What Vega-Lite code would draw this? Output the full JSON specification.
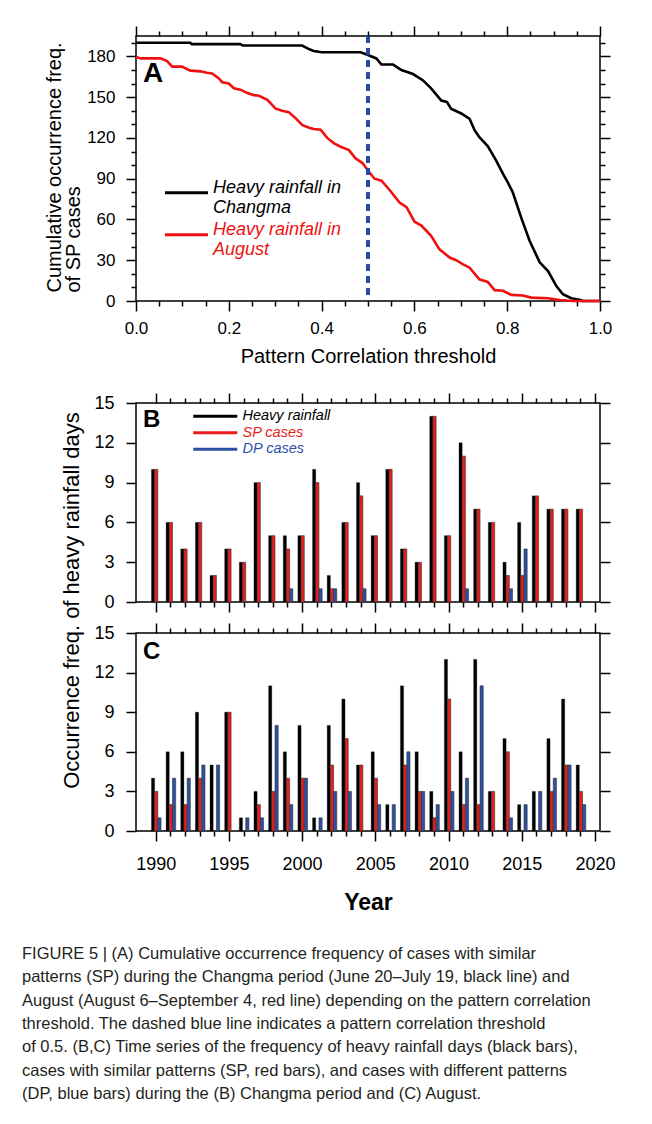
{
  "$schema": "https://vega.github.io/schema/vega-lite/v6.json",
  "padding": {"left": 22, "top": 24, "right": 5, "bottom": 10},
  "bounds": "flush",
  "spacing": 102,
  "resolve": {"scale": {"color": "independent"}, "legend": {"color": "independent"}},
  "title": {
    "text": [
      "FIGURE 5 | (A) Cumulative occurrence frequency of cases with similar",
      "patterns (SP) during the Changma period (June 20–July 19, black line) and",
      "August (August 6–September 4, red line) depending on the pattern correlation",
      "threshold. The dashed blue line indicates a pattern correlation threshold",
      "of 0.5. (B,C) Time series of the frequency of heavy rainfall days (black bars),",
      "cases with similar patterns (SP, red bars), and cases with different patterns",
      "(DP, blue bars) during the (B) Changma period and (C) August."
    ],
    "orient": "bottom",
    "anchor": "start",
    "frame": "group",
    "dx": -114,
    "offset": 31,
    "baseline": "top",
    "fontSize": 16.5,
    "fontWeight": "normal",
    "lineHeight": 23.4,
    "color": "#231f20"
  },
  "datasets": {
    "lines": [
      {"s": "Changma", "t": 0, "v": 190},
      {"s": "Changma", "t": 0.117, "v": 190},
      {"s": "Changma", "t": 0.12, "v": 189},
      {"s": "Changma", "t": 0.225, "v": 189},
      {"s": "Changma", "t": 0.23, "v": 188},
      {"s": "Changma", "t": 0.358, "v": 188},
      {"s": "Changma", "t": 0.375, "v": 185},
      {"s": "Changma", "t": 0.383, "v": 184},
      {"s": "Changma", "t": 0.4, "v": 183},
      {"s": "Changma", "t": 0.484, "v": 183},
      {"s": "Changma", "t": 0.5, "v": 181},
      {"s": "Changma", "t": 0.518, "v": 178.5},
      {"s": "Changma", "t": 0.529, "v": 174},
      {"s": "Changma", "t": 0.554, "v": 174},
      {"s": "Changma", "t": 0.572, "v": 170},
      {"s": "Changma", "t": 0.597, "v": 167},
      {"s": "Changma", "t": 0.618, "v": 162.5},
      {"s": "Changma", "t": 0.636, "v": 156.5},
      {"s": "Changma", "t": 0.658, "v": 147.5},
      {"s": "Changma", "t": 0.67, "v": 146.5},
      {"s": "Changma", "t": 0.679, "v": 141.5},
      {"s": "Changma", "t": 0.701, "v": 138},
      {"s": "Changma", "t": 0.719, "v": 134},
      {"s": "Changma", "t": 0.73, "v": 125.5},
      {"s": "Changma", "t": 0.74, "v": 120.5},
      {"s": "Changma", "t": 0.758, "v": 114},
      {"s": "Changma", "t": 0.776, "v": 103.5},
      {"s": "Changma", "t": 0.791, "v": 93.5},
      {"s": "Changma", "t": 0.801, "v": 87.5},
      {"s": "Changma", "t": 0.812, "v": 80},
      {"s": "Changma", "t": 0.83, "v": 61.5},
      {"s": "Changma", "t": 0.848, "v": 44.5},
      {"s": "Changma", "t": 0.87, "v": 28.5},
      {"s": "Changma", "t": 0.888, "v": 22},
      {"s": "Changma", "t": 0.906, "v": 11},
      {"s": "Changma", "t": 0.92, "v": 5},
      {"s": "Changma", "t": 0.938, "v": 2},
      {"s": "Changma", "t": 0.956, "v": 1},
      {"s": "Changma", "t": 0.963, "v": 0},
      {"s": "Changma", "t": 1, "v": 0},
      {"s": "August", "t": 0, "v": 179.5},
      {"s": "August", "t": 0.01, "v": 178.5},
      {"s": "August", "t": 0.053, "v": 178.5},
      {"s": "August", "t": 0.067, "v": 176.5},
      {"s": "August", "t": 0.078, "v": 172.5},
      {"s": "August", "t": 0.099, "v": 172.5},
      {"s": "August", "t": 0.117, "v": 169.5},
      {"s": "August", "t": 0.139, "v": 169},
      {"s": "August", "t": 0.153, "v": 168},
      {"s": "August", "t": 0.164, "v": 167.5},
      {"s": "August", "t": 0.178, "v": 164},
      {"s": "August", "t": 0.186, "v": 161},
      {"s": "August", "t": 0.2, "v": 160},
      {"s": "August", "t": 0.211, "v": 156.5},
      {"s": "August", "t": 0.225, "v": 155.5},
      {"s": "August", "t": 0.24, "v": 153},
      {"s": "August", "t": 0.254, "v": 151.5},
      {"s": "August", "t": 0.265, "v": 151},
      {"s": "August", "t": 0.283, "v": 148},
      {"s": "August", "t": 0.301, "v": 141.5},
      {"s": "August", "t": 0.315, "v": 140},
      {"s": "August", "t": 0.329, "v": 139},
      {"s": "August", "t": 0.344, "v": 134.5},
      {"s": "August", "t": 0.358, "v": 129.5},
      {"s": "August", "t": 0.373, "v": 127.5},
      {"s": "August", "t": 0.383, "v": 126.5},
      {"s": "August", "t": 0.398, "v": 126},
      {"s": "August", "t": 0.412, "v": 120},
      {"s": "August", "t": 0.427, "v": 116},
      {"s": "August", "t": 0.441, "v": 113.5},
      {"s": "August", "t": 0.459, "v": 111},
      {"s": "August", "t": 0.473, "v": 105},
      {"s": "August", "t": 0.488, "v": 101.5},
      {"s": "August", "t": 0.5, "v": 96},
      {"s": "August", "t": 0.514, "v": 90},
      {"s": "August", "t": 0.529, "v": 88.5},
      {"s": "August", "t": 0.547, "v": 81.5},
      {"s": "August", "t": 0.568, "v": 72.5},
      {"s": "August", "t": 0.583, "v": 69},
      {"s": "August", "t": 0.6, "v": 58.5},
      {"s": "August", "t": 0.615, "v": 55.5},
      {"s": "August", "t": 0.636, "v": 48},
      {"s": "August", "t": 0.654, "v": 38},
      {"s": "August", "t": 0.676, "v": 32},
      {"s": "August", "t": 0.69, "v": 30},
      {"s": "August", "t": 0.705, "v": 27},
      {"s": "August", "t": 0.719, "v": 24.5},
      {"s": "August", "t": 0.74, "v": 16},
      {"s": "August", "t": 0.758, "v": 14},
      {"s": "August", "t": 0.773, "v": 8},
      {"s": "August", "t": 0.791, "v": 7.5},
      {"s": "August", "t": 0.809, "v": 4.5},
      {"s": "August", "t": 0.834, "v": 4},
      {"s": "August", "t": 0.852, "v": 2.5},
      {"s": "August", "t": 0.888, "v": 2},
      {"s": "August", "t": 0.913, "v": 0.7},
      {"s": "August", "t": 0.941, "v": 0},
      {"s": "August", "t": 1, "v": 0}
    ],
    "changma": [
      {"year": 1990, "heavy": 10, "sp": 10, "dp": 0},
      {"year": 1991, "heavy": 6, "sp": 6, "dp": 0},
      {"year": 1992, "heavy": 4, "sp": 4, "dp": 0},
      {"year": 1993, "heavy": 6, "sp": 6, "dp": 0},
      {"year": 1994, "heavy": 2, "sp": 2, "dp": 0},
      {"year": 1995, "heavy": 4, "sp": 4, "dp": 0},
      {"year": 1996, "heavy": 3, "sp": 3, "dp": 0},
      {"year": 1997, "heavy": 9, "sp": 9, "dp": 0},
      {"year": 1998, "heavy": 5, "sp": 5, "dp": 0},
      {"year": 1999, "heavy": 5, "sp": 4, "dp": 1},
      {"year": 2000, "heavy": 5, "sp": 5, "dp": 0},
      {"year": 2001, "heavy": 10, "sp": 9, "dp": 1},
      {"year": 2002, "heavy": 2, "sp": 1, "dp": 1},
      {"year": 2003, "heavy": 6, "sp": 6, "dp": 0},
      {"year": 2004, "heavy": 9, "sp": 8, "dp": 1},
      {"year": 2005, "heavy": 5, "sp": 5, "dp": 0},
      {"year": 2006, "heavy": 10, "sp": 10, "dp": 0},
      {"year": 2007, "heavy": 4, "sp": 4, "dp": 0},
      {"year": 2008, "heavy": 3, "sp": 3, "dp": 0},
      {"year": 2009, "heavy": 14, "sp": 14, "dp": 0},
      {"year": 2010, "heavy": 5, "sp": 5, "dp": 0},
      {"year": 2011, "heavy": 12, "sp": 11, "dp": 1},
      {"year": 2012, "heavy": 7, "sp": 7, "dp": 0},
      {"year": 2013, "heavy": 6, "sp": 6, "dp": 0},
      {"year": 2014, "heavy": 3, "sp": 2, "dp": 1},
      {"year": 2015, "heavy": 6, "sp": 2, "dp": 4},
      {"year": 2016, "heavy": 8, "sp": 8, "dp": 0},
      {"year": 2017, "heavy": 7, "sp": 7, "dp": 0},
      {"year": 2018, "heavy": 7, "sp": 7, "dp": 0},
      {"year": 2019, "heavy": 7, "sp": 7, "dp": 0}
    ],
    "august": [
      {"year": 1990, "heavy": 4, "sp": 3, "dp": 1},
      {"year": 1991, "heavy": 6, "sp": 2, "dp": 4},
      {"year": 1992, "heavy": 6, "sp": 2, "dp": 4},
      {"year": 1993, "heavy": 9, "sp": 4, "dp": 5},
      {"year": 1994, "heavy": 5, "sp": 0, "dp": 5},
      {"year": 1995, "heavy": 9, "sp": 9, "dp": 0},
      {"year": 1996, "heavy": 1, "sp": 0, "dp": 1},
      {"year": 1997, "heavy": 3, "sp": 2, "dp": 1},
      {"year": 1998, "heavy": 11, "sp": 3, "dp": 8},
      {"year": 1999, "heavy": 6, "sp": 4, "dp": 2},
      {"year": 2000, "heavy": 8, "sp": 4, "dp": 4},
      {"year": 2001, "heavy": 1, "sp": 0, "dp": 1},
      {"year": 2002, "heavy": 8, "sp": 5, "dp": 3},
      {"year": 2003, "heavy": 10, "sp": 7, "dp": 3},
      {"year": 2004, "heavy": 5, "sp": 5, "dp": 0},
      {"year": 2005, "heavy": 6, "sp": 4, "dp": 2},
      {"year": 2006, "heavy": 2, "sp": 0, "dp": 2},
      {"year": 2007, "heavy": 11, "sp": 5, "dp": 6},
      {"year": 2008, "heavy": 6, "sp": 3, "dp": 3},
      {"year": 2009, "heavy": 3, "sp": 1, "dp": 2},
      {"year": 2010, "heavy": 13, "sp": 10, "dp": 3},
      {"year": 2011, "heavy": 6, "sp": 2, "dp": 4},
      {"year": 2012, "heavy": 13, "sp": 2, "dp": 11},
      {"year": 2013, "heavy": 3, "sp": 3, "dp": 0},
      {"year": 2014, "heavy": 7, "sp": 6, "dp": 1},
      {"year": 2015, "heavy": 2, "sp": 0, "dp": 2},
      {"year": 2016, "heavy": 3, "sp": 0, "dp": 3},
      {"year": 2017, "heavy": 7, "sp": 3, "dp": 4},
      {"year": 2018, "heavy": 10, "sp": 5, "dp": 5},
      {"year": 2019, "heavy": 5, "sp": 3, "dp": 2}
    ]
  },
  "vconcat": [
    {
      "width": 464,
      "height": 265,
      "data": {"name": "lines"},
      "title": {"text": "A", "anchor": "start", "frame": "group", "orient": "top", "baseline": "top", "fontSize": 28, "fontWeight": "bold", "color": "#000000", "dx": 7, "dy": 63, "offset": 0},
      "layer": [
        {
          "transform": [{"filter": "datum.s === 'Changma'"}],
          "mark": {"type": "line", "strokeWidth": 2.6},
          "encoding": {
            "x": {"field": "t", "type": "quantitative", "scale": {"domain": [0, 1], "nice": false, "zero": false},
              "axis": {"orient": "bottom", "values": [0, 0.05, 0.1, 0.15, 0.2, 0.25, 0.3, 0.35, 0.4, 0.45, 0.5, 0.55, 0.6, 0.65, 0.7, 0.75, 0.8, 0.85, 0.9, 0.95, 1],
                "tickSize": {"condition": {"test": "round(datum.value * 20) % 4 === 0", "value": 10}, "value": 5},
                "labelExpr": "round(datum.value * 20) % 4 === 0 ? format(datum.value, '.1f') : ''",
                "labelFontSize": 17, "labelPadding": 9,
                "title": "Pattern Correlation threshold", "titleFontSize": 20, "titlePadding": 10}},
            "y": {"field": "v", "type": "quantitative", "scale": {"domain": [0, 195], "nice": false},
              "axis": {"orient": "left", "values": [0, 10, 20, 30, 40, 50, 60, 70, 80, 90, 100, 110, 120, 130, 140, 150, 160, 170, 180, 190],
                "tickSize": {"condition": {"test": "datum.value % 30 === 0", "value": 10}, "value": 5},
                "labelExpr": "datum.value % 30 === 0 ? datum.label : ''",
                "labelFontSize": 17, "labelPadding": 11,
                "title": ["Cumulative occurrence freq.", "of SP cases"], "titleFontSize": 20, "titleLineHeight": 19,
                "titleAlign": "left", "titleY": 256, "titlePadding": 3}},
            "color": {"field": "s", "type": "nominal",
              "scale": {"domain": ["Changma", "August"], "range": ["#000000", "#f01010"]},
              "legend": {"orient": "none", "legendX": 27, "legendY": 143, "title": null, "padding": 0,
                "symbolType": "M-1,0.67H5.143", "symbolSize": 196, "symbolStrokeWidth": 3,
                "labelFontSize": 18, "labelFontStyle": "italic", "labelOffset": 32, "labelLimit": 0,
                "labelExpr": "['Heavy rainfall in', datum.label]",
                "labelColor": {"expr": "datum.value === 'August' ? '#f01010' : '#000000'"},
                "rowPadding": 4}}
          }
        },
        {
          "transform": [{"filter": "datum.s === 'August'"}],
          "mark": {"type": "line", "strokeWidth": 2.6},
          "encoding": {
            "x": {"field": "t", "type": "quantitative",
              "axis": {"orient": "top", "values": [0, 0.05, 0.1, 0.15, 0.2, 0.25, 0.3, 0.35, 0.4, 0.45, 0.5, 0.55, 0.6, 0.65, 0.7, 0.75, 0.8, 0.85, 0.9, 0.95, 1],
                "tickSize": {"condition": {"test": "round(datum.value * 20) % 4 === 0", "value": 10}, "value": 5},
                "labels": false, "title": null}},
            "y": {"field": "v", "type": "quantitative",
              "axis": {"orient": "right", "values": [0, 10, 20, 30, 40, 50, 60, 70, 80, 90, 100, 110, 120, 130, 140, 150, 160, 170, 180, 190],
                "tickSize": {"condition": {"test": "datum.value % 30 === 0", "value": 10}, "value": 5},
                "labels": false, "title": null}},
            "color": {"field": "s", "type": "nominal"}
          }
        },
        {
          "mark": {"type": "rule", "color": "#2b4aa8", "strokeWidth": 2.2, "strokeDash": [7, 5]},
          "encoding": {"x": {"datum": 0.5, "type": "quantitative", "axis": null}}
        }
      ],
      "resolve": {"axis": {"x": "independent", "y": "independent"}}
    },
    {
      "bounds": "flush",
      "spacing": 31,
      "resolve": {"scale": {"color": "independent"}, "legend": {"color": "independent"}},
      "vconcat": [
        {
          "width": 464,
          "height": 199,
          "data": {"name": "changma"},
          "title": {"text": "B", "anchor": "start", "frame": "group", "orient": "top", "baseline": "top", "fontSize": 24, "fontWeight": "bold", "color": "#000000", "dx": 7, "dy": 40, "offset": 0},
          "layer": [
            {
              "mark": {"type": "bar", "size": 3.2, "xOffset": -2.6, "stroke": "#111111", "strokeWidth": 0.3},
              "encoding": {
                "x": {"field": "year", "type": "quantitative", "scale": {"domain": [1989, 2020], "nice": false, "zero": false},
                  "axis": {"orient": "bottom", "values": [1990, 1991, 1992, 1993, 1994, 1995, 1996, 1997, 1998, 1999, 2000, 2001, 2002, 2003, 2004, 2005, 2006, 2007, 2008, 2009, 2010, 2011, 2012, 2013, 2014, 2015, 2016, 2017, 2018, 2019, 2020],
                    "tickSize": {"condition": {"test": "datum.value % 5 === 0", "value": 10}, "value": 5},
                    "labels": false, "title": null}},
                "y": {"field": "heavy", "type": "quantitative", "scale": {"domain": [0, 15], "nice": false},
                  "axis": {"orient": "left", "values": [0, 3, 6, 9, 12, 15], "tickSize": 10,
                    "labelFontSize": 18, "labelPadding": 12,
                    "title": "Occurrence freq. of heavy rainfall days", "titleFontSize": 22,
                    "titleAlign": "center", "titleY": 197, "titlePadding": 10}},
                "color": {"datum": "Heavy rainfall", "type": "nominal",
                  "scale": {"domain": ["Heavy rainfall", "SP cases", "DP cases"], "range": ["#000000", "#ea1c1c", "#2b50a4"]},
                  "legend": {"orient": "none", "legendX": 57, "legendY": 6, "title": null, "padding": 0,
                    "symbolType": "M-1,-0.214H5.286V0.214H-1Z", "symbolSize": 196, "symbolStrokeWidth": 0,
                    "labelFontSize": 14.5, "labelFontStyle": "italic", "labelOffset": 35, "labelLimit": 0,
                    "labelColor": {"expr": "datum.value === 'SP cases' ? '#ea1c1c' : datum.value === 'DP cases' ? '#2b50a4' : '#000000'"},
                    "rowPadding": 1.5}}
              }
            },
            {
              "transform": [{"filter": "datum.sp > 0"}],
              "mark": {"type": "bar", "size": 3.2, "xOffset": 0.6, "stroke": "#333333", "strokeWidth": 0.6},
              "encoding": {
                "x": {"field": "year", "type": "quantitative",
                  "axis": {"orient": "top", "values": [1990, 1991, 1992, 1993, 1994, 1995, 1996, 1997, 1998, 1999, 2000, 2001, 2002, 2003, 2004, 2005, 2006, 2007, 2008, 2009, 2010, 2011, 2012, 2013, 2014, 2015, 2016, 2017, 2018, 2019, 2020],
                    "tickSize": {"condition": {"test": "datum.value % 5 === 0", "value": 10}, "value": 5},
                    "labels": false, "title": null}},
                "y": {"field": "sp", "type": "quantitative",
                  "axis": {"orient": "right", "values": [0, 3, 6, 9, 12, 15], "tickSize": 10, "labels": false, "title": null}},
                "color": {"datum": "SP cases", "type": "nominal"}
              }
            },
            {
              "transform": [{"filter": "datum.dp > 0"}],
              "mark": {"type": "bar", "size": 3.2, "xOffset": 3.8, "stroke": "#333333", "strokeWidth": 0.6},
              "encoding": {
                "x": {"field": "year", "type": "quantitative", "axis": null},
                "y": {"field": "dp", "type": "quantitative", "axis": null},
                "color": {"datum": "DP cases", "type": "nominal"}
              }
            }
          ],
          "resolve": {"axis": {"x": "independent", "y": "independent"}}
        },
        {
          "width": 464,
          "height": 198,
          "data": {"name": "august"},
          "title": {"text": "C", "anchor": "start", "frame": "group", "orient": "top", "baseline": "top", "fontSize": 24, "fontWeight": "bold", "color": "#000000", "dx": 7, "dy": 42, "offset": 0},
          "layer": [
            {
              "mark": {"type": "bar", "size": 3.2, "xOffset": -2.6, "stroke": "#111111", "strokeWidth": 0.3},
              "encoding": {
                "x": {"field": "year", "type": "quantitative", "scale": {"domain": [1989, 2020], "nice": false, "zero": false},
                  "axis": {"orient": "bottom", "values": [1990, 1991, 1992, 1993, 1994, 1995, 1996, 1997, 1998, 1999, 2000, 2001, 2002, 2003, 2004, 2005, 2006, 2007, 2008, 2009, 2010, 2011, 2012, 2013, 2014, 2015, 2016, 2017, 2018, 2019, 2020],
                    "tickSize": {"condition": {"test": "datum.value % 5 === 0", "value": 10}, "value": 5},
                    "format": "d",
                    "labelExpr": "datum.value % 5 === 0 ? datum.label : ''",
                    "labelFontSize": 18, "labelPadding": 14,
                    "title": "Year", "titleFontSize": 23, "titleFontWeight": "bold", "titlePadding": 18}},
                "y": {"field": "heavy", "type": "quantitative", "scale": {"domain": [0, 15], "nice": false},
                  "axis": {"orient": "left", "values": [0, 3, 6, 9, 12, 15], "tickSize": 10,
                    "labelFontSize": 18, "labelPadding": 12, "title": null}},
                "color": {"datum": "Heavy rainfall", "type": "nominal",
                  "scale": {"domain": ["Heavy rainfall", "SP cases", "DP cases"], "range": ["#000000", "#ea1c1c", "#2b50a4"]},
                  "legend": null}
              }
            },
            {
              "transform": [{"filter": "datum.sp > 0"}],
              "mark": {"type": "bar", "size": 3.2, "xOffset": 0.6, "stroke": "#333333", "strokeWidth": 0.6},
              "encoding": {
                "x": {"field": "year", "type": "quantitative",
                  "axis": {"orient": "top", "values": [1990, 1991, 1992, 1993, 1994, 1995, 1996, 1997, 1998, 1999, 2000, 2001, 2002, 2003, 2004, 2005, 2006, 2007, 2008, 2009, 2010, 2011, 2012, 2013, 2014, 2015, 2016, 2017, 2018, 2019, 2020],
                    "tickSize": {"condition": {"test": "datum.value % 5 === 0", "value": 10}, "value": 5},
                    "labels": false, "title": null}},
                "y": {"field": "sp", "type": "quantitative",
                  "axis": {"orient": "right", "values": [0, 3, 6, 9, 12, 15], "tickSize": 10, "labels": false, "title": null}},
                "color": {"datum": "SP cases", "type": "nominal"}
              }
            },
            {
              "transform": [{"filter": "datum.dp > 0"}],
              "mark": {"type": "bar", "size": 3.2, "xOffset": 3.8, "stroke": "#333333", "strokeWidth": 0.6},
              "encoding": {
                "x": {"field": "year", "type": "quantitative", "axis": null},
                "y": {"field": "dp", "type": "quantitative", "axis": null},
                "color": {"datum": "DP cases", "type": "nominal"}
              }
            }
          ],
          "resolve": {"axis": {"x": "independent", "y": "independent"}}
        }
      ]
    }
  ],
  "config": {
    "font": "Liberation Sans",
    "background": "#ffffff",
    "view": {"stroke": "#000000", "strokeWidth": 1.5},
    "axis": {"domain": false, "grid": false, "tickColor": "#000000", "tickWidth": 1.5,
      "labelColor": "#000000", "titleColor": "#000000", "titleFontWeight": "normal",
      "labelOverlap": false, "labelFlush": false, "labelBound": false},
    "legend": {"labelColor": "#000000"}
  }
}
